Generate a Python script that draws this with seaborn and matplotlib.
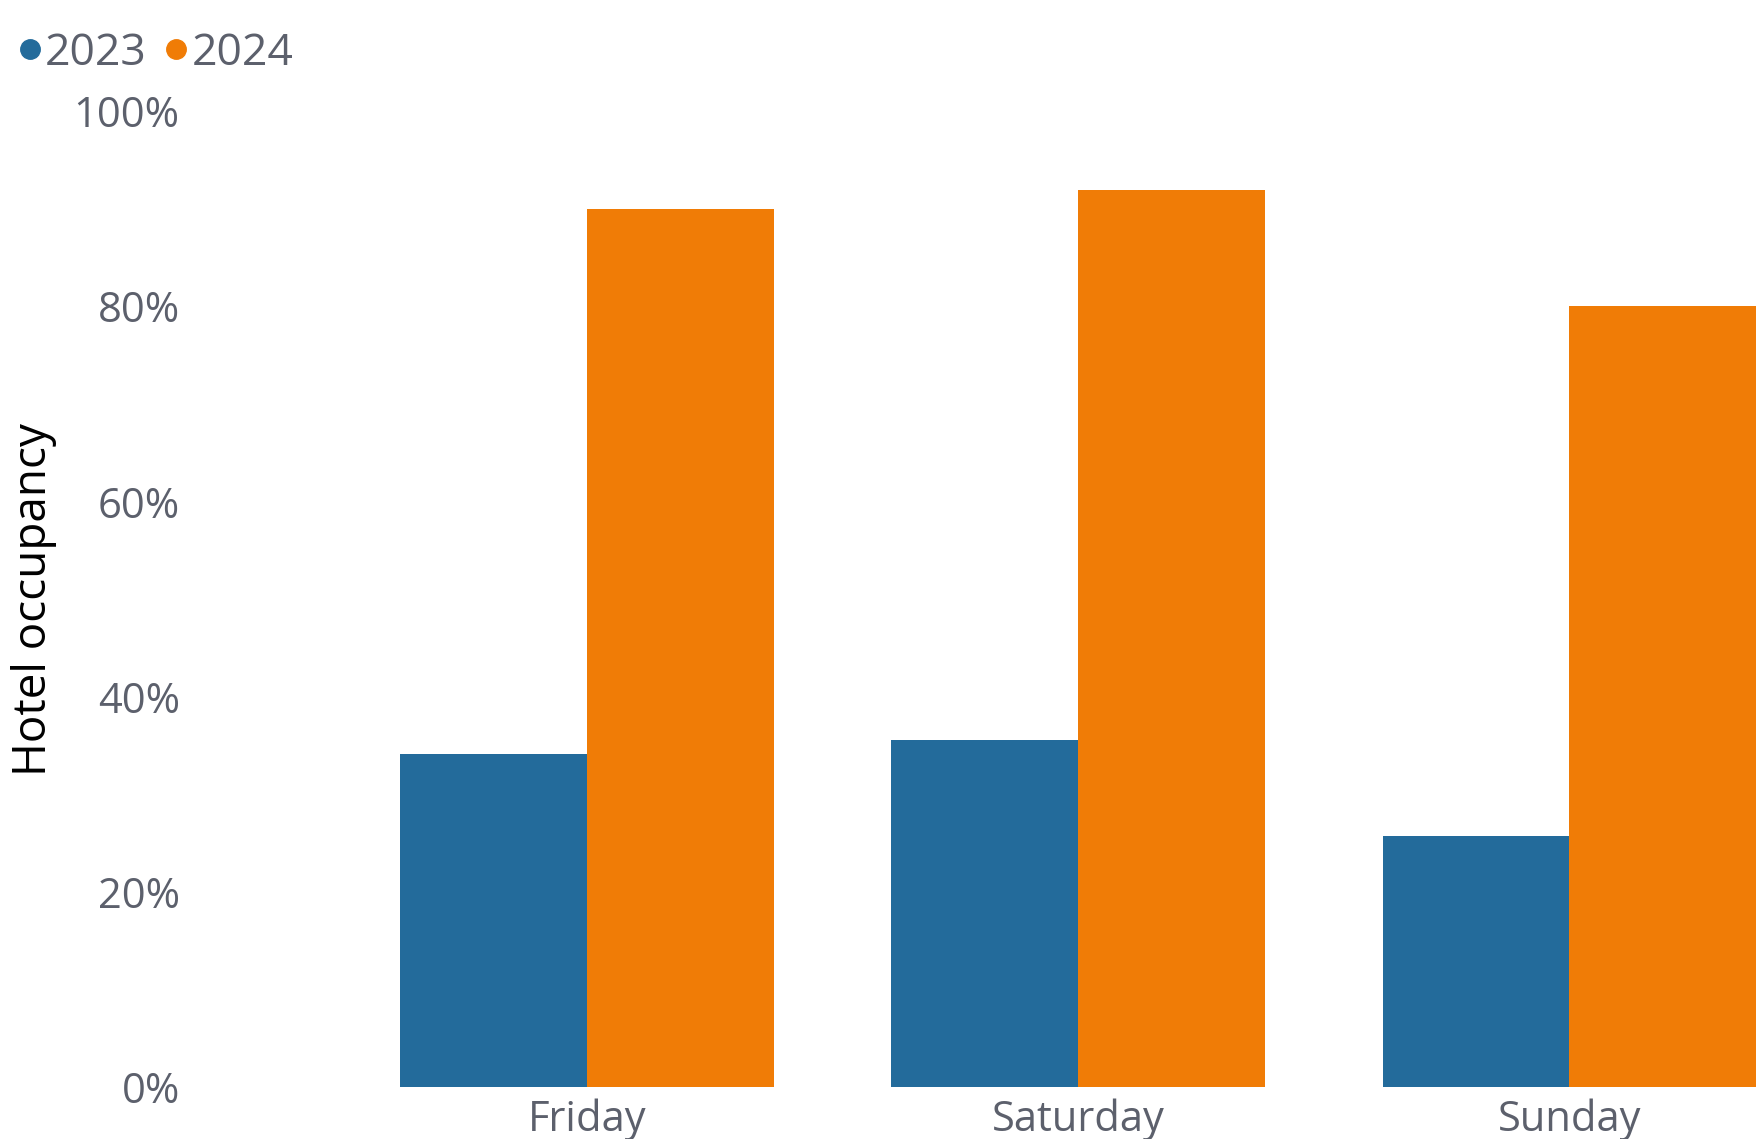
import matplotlib
matplotlib.use("Agg")
import matplotlib.pyplot as plt
from matplotlib.lines import Line2D
import seaborn as sns
import pandas as pd

# --- data ---
days = ["Friday", "Saturday", "Sunday"]
years = ["2023", "2024"]
occ_2023 = [34.1, 35.6, 25.7]
occ_2024 = [90.0, 91.9, 80.0]
yticks = [0, 20, 40, 60, 80, 100]

colors = {"2023": "#236b9b", "2024": "#f07c06"}
text_grey = "#5c606c"

df = pd.DataFrame({
    "day": days * 2,
    "year": ["2023"] * 3 + ["2024"] * 3,
    "occupancy": occ_2023 + occ_2024,
})

sns.set_style("white")
plt.rcParams["font.family"] = ["Open Sans", "DejaVu Sans"]

fig = plt.figure(figsize=(17.61, 11.39), dpi=100)
ax = fig.add_axes([0.1084, 0.0454, 0.8916, 0.857])

sns.barplot(data=df, x="day", y="occupancy", hue="year", order=days,
            hue_order=years, palette=colors, width=0.76, saturation=1,
            linewidth=0, ax=ax, legend=False)

ax.set_xlim(-0.806, 2.39)
ax.set_ylim(0, 100)
ax.set_yticks(yticks)
ax.set_yticklabels([f"{v}%" for v in yticks])
ax.tick_params(axis="both", length=0, labelsize=30, colors=text_grey)
ax.tick_params(axis="y", pad=8)
ax.tick_params(axis="x", pad=8)
ax.set_xlabel("")
ax.set_ylabel("Hotel occupancy", fontsize=33, color="black")
ax.yaxis.set_label_coords(-0.085, 0.5)
for s in ax.spines.values():
    s.set_visible(False)
ax.grid(False)

handles = [Line2D([0], [0], marker="o", linestyle="", markersize=14,
                  markerfacecolor=colors[y], markeredgecolor=colors[y])
           for y in years]
fig.legend(handles, years, loc="center left", bbox_to_anchor=(0.008, 0.953),
           ncol=2, frameon=False, fontsize=32, labelcolor=text_grey,
           handletextpad=0.0, columnspacing=0.3, handlelength=0.7,
           borderaxespad=0, borderpad=0)

fig.savefig("out.png", dpi=100)
